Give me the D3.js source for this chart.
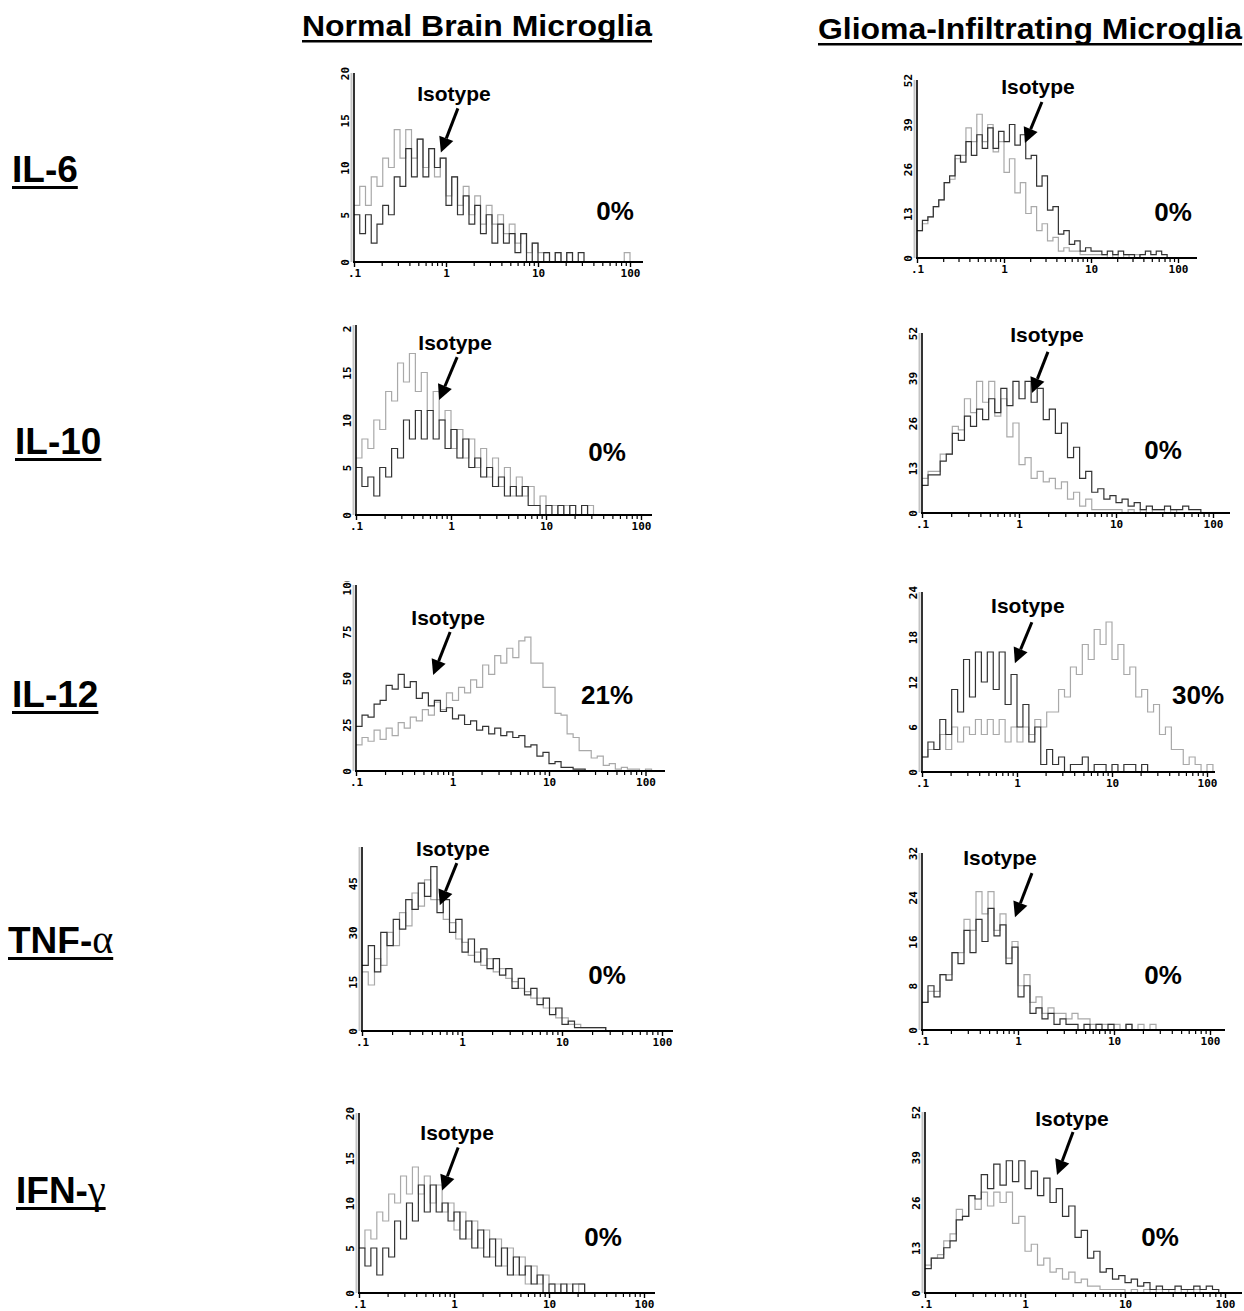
<!DOCTYPE html>
<html>
<head>
<meta charset="utf-8">
<script src="https://cdn.jsdelivr.net/npm/d3@7"></script>
<style>
  body { margin: 0; background: #fff; }
  svg { display: block; }
</style>
</head>
<body>
<svg id="fig" width="1244" height="1311"></svg>
<script>
// ---- data (counts per log channel, 16 channels per decade, starting at 0.1) ----
const columnTitles = ['Normal Brain Microglia', 'Glioma-Infiltrating Microglia']
const rowLabels = [['IL-6', ''], ['IL-10', ''], ['IL-12', ''], ['TNF-', 'α'], ['IFN-', 'γ']]
const xTickValues = [0.1, 1, 10, 100]
const xTickLabels = ['.1', '1', '10', '100']
const xMinorTicks = [0.2, 0.3, 0.4, 0.5, 0.6, 0.7, 0.8, 0.9, 2, 3, 4, 5, 6, 7, 8, 9,
  20, 30, 40, 50, 60, 70, 80, 90, 200]

const normalYMax = [20, 20, 100, 56, 20]
const gliomaYMax = [52, 52, 24, 32, 52]
const normalYTicks = [[0, 5, 10, 15, 20], [0, 5, 10, 15, 20], [0, 25, 50, 75, 100], [0, 15, 30, 45], [0, 5, 10, 15, 20]]
const gliomaYTicks = [[0, 13, 26, 39, 52], [0, 13, 26, 39, 52], [0, 6, 12, 18, 24], [0, 8, 16, 24, 32], [0, 13, 26, 39, 52]]
const normalPercent = ['0%', '0%', '21%', '0%', '0%']
const gliomaPercent = ['0%', '0%', '30%', '0%', '0%']
// where the "Isotype" arrow points, [fluorescence, count]
const normalArrowTip = [[0.88, 11.6], [0.75, 12.1], [0.63, 51.6], [0.6, 38.3], [0.75, 11.4]]
const gliomaArrowTip = [[1.74, 33.6], [1.36, 34.7], [0.95, 14.5], [0.93, 20.4], [2.09, 33.9]]

// isotype = dark trace, stain = light trace
const il6NormalIso = [5, 3, 5, 2, 4, 6, 5, 9, 8, 12, 9, 13, 9, 12, 10, 11, 6, 9, 5, 7, 4, 6, 3, 5, 2, 4, 2, 3, 1, 3, 0, 2, 0, 1, 0, 1, 0, 1, 0, 1, 0, 0]
const il6NormalStain = [6, 8, 6, 9, 8, 11, 10, 14, 11, 14, 11, 13, 10, 12, 9, 11, 7, 9, 6, 8, 5, 7, 4, 6, 4, 5, 3, 4, 2, 3, 1, 2, 1, 1, 0, 1, 0, 1, 0, 0, 0, 0, 0, 0, 0, 0, 0, 1, 0]
const il10NormalIso = [5, 3, 4, 2, 5, 4, 7, 6, 10, 8, 11, 8, 11, 8, 10, 7, 9, 6, 8, 5, 6, 4, 5, 3, 4, 2, 3, 2, 3, 1, 1, 0, 1, 0, 1, 0, 1, 0, 1, 0, 0]
const il10NormalStain = [6, 8, 7, 10, 9, 13, 12, 16, 14, 17, 13, 15, 11, 13, 10, 11, 7, 9, 6, 8, 5, 7, 4, 6, 3, 5, 2, 4, 2, 3, 1, 2, 1, 1, 0, 1, 0, 0, 0, 1, 0]
const il12NormalIso = [24, 30, 29, 36, 38, 46, 44, 52, 45, 48, 39, 42, 35, 38, 32, 34, 28, 30, 25, 27, 22, 24, 20, 23, 19, 21, 18, 19, 13, 14, 8, 10, 4, 5, 2, 2, 1, 1, 0]
const il12NormalStain = [14, 18, 16, 22, 17, 23, 19, 26, 23, 29, 27, 33, 30, 37, 33, 42, 38, 45, 42, 49, 45, 57, 52, 62, 58, 66, 61, 70, 72, 58, 58, 45, 45, 31, 30, 20, 18, 11, 11, 7, 8, 3, 4, 1, 2, 1, 1, 0, 1, 0]
const tnfNormalIso = [20, 26, 18, 30, 26, 34, 31, 40, 37, 45, 41, 50, 36, 40, 30, 34, 24, 28, 21, 25, 19, 22, 17, 19, 13, 16, 11, 13, 8, 10, 5, 7, 2, 3, 1, 1, 1, 1, 1, 0]
const tnfNormalStain = [18, 14, 22, 20, 30, 26, 36, 32, 42, 38, 46, 40, 40, 34, 33, 28, 27, 23, 24, 20, 22, 18, 19, 16, 15, 13, 12, 10, 10, 7, 7, 4, 4, 2, 2, 1, 1, 1, 1, 0]
const ifnNormalIso = [5, 3, 5, 2, 5, 4, 8, 6, 10, 8, 12, 9, 12, 9, 10, 8, 9, 6, 8, 5, 7, 4, 6, 3, 5, 2, 4, 2, 3, 1, 2, 0, 1, 0, 1, 0, 1, 1, 0]
const ifnNormalStain = [5, 7, 6, 9, 8, 11, 10, 13, 11, 14, 11, 13, 10, 12, 9, 10, 7, 9, 6, 8, 5, 7, 4, 6, 3, 5, 2, 4, 1, 3, 1, 2, 1, 1, 0, 1, 0, 1, 0]

const il6GliomaIso = [8, 11, 12, 15, 17, 22, 24, 30, 28, 34, 30, 36, 32, 38, 32, 37, 34, 39, 33, 36, 29, 30, 21, 24, 14, 15, 7, 8, 4, 5, 2, 3, 2, 2, 1, 2, 1, 2, 1, 1, 0, 1, 2, 1, 2, 1, 0]
const il6GliomaStain = [8, 10, 12, 15, 17, 22, 23, 29, 30, 38, 34, 42, 34, 39, 31, 34, 25, 29, 19, 22, 13, 15, 8, 10, 5, 6, 2, 3, 2, 2, 1, 1, 1, 1, 1, 0, 1, 0, 1, 0, 1, 0]
const il10GliomaIso = [8, 11, 11, 15, 17, 23, 21, 28, 25, 30, 27, 33, 29, 36, 31, 38, 33, 38, 32, 36, 27, 30, 23, 26, 16, 19, 10, 12, 6, 7, 4, 5, 3, 4, 2, 3, 1, 2, 1, 1, 2, 1, 1, 2, 1, 1, 0]
const il10GliomaStain = [10, 12, 12, 17, 17, 25, 24, 33, 29, 38, 32, 38, 28, 33, 22, 26, 14, 16, 10, 12, 9, 10, 7, 9, 4, 6, 2, 4, 1, 1, 1, 1, 1, 0, 1, 0, 1, 0, 1, 1, 0, 1, 0]
const il12GliomaIso = [2, 4, 3, 7, 5, 11, 8, 15, 10, 16, 12, 16, 11, 16, 9, 13, 6, 9, 4, 6, 1, 3, 1, 2, 0, 1, 1, 2, 0, 1, 1, 0, 1, 0, 1, 1, 0, 1, 0]
const il12GliomaStain = [2, 3, 3, 5, 3, 6, 4, 6, 5, 7, 5, 7, 5, 7, 4, 6, 4, 6, 5, 7, 6, 8, 8, 11, 10, 14, 13, 17, 15, 19, 17, 20, 15, 17, 13, 14, 10, 11, 8, 9, 5, 6, 3, 3, 1, 2, 1, 0, 1, 0]
const tnfGliomaIso = [5, 8, 6, 10, 9, 14, 12, 18, 14, 20, 16, 22, 17, 19, 12, 15, 6, 8, 3, 4, 2, 3, 1, 2, 1, 1, 0, 1, 0, 1, 0, 1, 0, 0, 1, 0]
const tnfGliomaStain = [5, 7, 7, 10, 10, 14, 14, 20, 18, 25, 21, 25, 18, 21, 13, 16, 8, 10, 5, 6, 3, 4, 3, 3, 2, 3, 2, 2, 1, 1, 1, 1, 1, 0, 1, 0, 1, 0, 1, 0]
const ifnGliomaIso = [7, 10, 10, 13, 15, 21, 22, 28, 27, 34, 30, 37, 31, 38, 32, 38, 30, 35, 28, 33, 26, 30, 22, 25, 16, 18, 10, 12, 6, 7, 4, 5, 3, 4, 2, 3, 1, 2, 1, 1, 2, 1, 1, 2, 1, 2, 1, 0]
const ifnGliomaStain = [8, 10, 11, 15, 17, 24, 22, 28, 24, 29, 25, 29, 26, 29, 20, 22, 12, 14, 8, 10, 6, 7, 4, 6, 3, 4, 2, 2, 1, 1, 1, 1, 0, 1, 0, 1, 0, 1, 0, 1, 0, 1, 0, 1, 0]

const normalCurves = [[il6NormalIso, il6NormalStain], [il10NormalIso, il10NormalStain], [il12NormalIso, il12NormalStain], [tnfNormalIso, tnfNormalStain], [ifnNormalIso, ifnNormalStain]]
const gliomaCurves = [[il6GliomaIso, il6GliomaStain], [il10GliomaIso, il10GliomaStain], [il12GliomaIso, il12GliomaStain], [tnfGliomaIso, tnfGliomaStain], [ifnGliomaIso, ifnGliomaStain]]

// ---- layout ----
const channelsPerDecade = 16
const darkColor = '#333333'
const lightColor = '#a9a9a9'
const sans = 'Liberation Sans, Arial, sans-serif'
const mono = 'DejaVu Sans Mono, monospace'

// x0 = pixel of 0.1, dec = pixels per decade, labelTop = where the y tick labels get cut
const normalFrames = [
  { x0: 354, dec: 92, xEnd: 643, base: 262, top: 73, labelTop: 60, pct: [615, 211], tail: [17, -44], label: [13, -59] },
  { x0: 356, dec: 95, xEnd: 652, base: 515, top: 325, labelTop: 325, pct: [607, 452], tail: [18, -43], label: [16, -58] },
  { x0: 356, dec: 96.5, xEnd: 665, base: 771, top: 585, labelTop: 581, pct: [607, 695], tail: [17, -43], label: [15, -58] },
  { x0: 362, dec: 100, xEnd: 673, base: 1031, top: 847, labelTop: 840, pct: [607, 975], tail: [17, -42], label: [13, -57] },
  { x0: 359, dec: 95, xEnd: 655, base: 1293, top: 1113, labelTop: 1100, pct: [603, 1237], tail: [16, -43], label: [15, -58] }
]
const gliomaFrames = [
  { x0: 917, dec: 87, xEnd: 1197, base: 258, top: 80, labelTop: 66, pct: [1173, 212], tail: [17, -41], label: [13, -56] },
  { x0: 922, dec: 97, xEnd: 1230, base: 513, top: 333, labelTop: 320, pct: [1163, 450], tail: [16, -41], label: [15, -58] },
  { x0: 922, dec: 95, xEnd: 1215, base: 772, top: 592, labelTop: 580, pct: [1198, 695], tail: [17, -41], label: [13, -58] },
  { x0: 922, dec: 96, xEnd: 1225, base: 1030, top: 853, labelTop: 840, pct: [1163, 975], tail: [17, -44], label: [-15, -60] },
  { x0: 925, dec: 100, xEnd: 1242, base: 1293, top: 1112, labelTop: 1100, pct: [1160, 1237], tail: [16, -43], label: [15, -57] }
]

const svg = d3.select('#fig')
let clipCount = 0

function addClip(x, y, w, h) {
  const id = 'clip' + clipCount++
  svg.append('clipPath').attr('id', id)
    .append('rect').attr('x', x).attr('y', y).attr('width', w).attr('height', h)
  return 'url(#' + id + ')'
}

function drawPanel(f, curves, yMax, yTicks, tip, pct) {
  const x = d3.scaleLog().domain([0.1, 100]).range([f.x0, f.x0 + 3 * f.dec])
  const y = d3.scaleLinear().domain([0, yMax]).range([f.base, f.top])
  const channel = i => 0.1 * Math.pow(10, i / channelsPerDecade)

  const line = d3.line()
    .x(d => x(d[0]))
    .y(d => y(d[1]))
    .curve(d3.curveStepAfter)

  const plot = svg.append('g').attr('clip-path', addClip(f.x0, f.top, f.xEnd - f.x0, f.base - f.top + 1))
  // stained trace (light) first, isotype (dark) over it
  const order = [[curves[1], lightColor], [curves[0], darkColor]]
  order.forEach(([vals, col]) => {
    const pts = vals.map((v, i) => [channel(i), v])
    pts.push([channel(vals.length), vals[vals.length - 1]])
    plot.append('path')
      .attr('d', line(pts))
      .attr('fill', 'none')
      .attr('stroke', col)
      .attr('stroke-width', 1.2)
  })

  // y axis: grey shadow + black line
  svg.append('line').attr('x1', f.x0 - 2.5).attr('x2', f.x0 - 2.5).attr('y1', f.top).attr('y2', f.base)
    .attr('stroke', '#c4c4c4').attr('stroke-width', 2)
  svg.append('line').attr('x1', f.x0).attr('x2', f.x0).attr('y1', f.top).attr('y2', f.base + 1)
    .attr('stroke', '#000').attr('stroke-width', 1.6)
  // x axis line
  svg.append('line').attr('x1', f.x0 - 1).attr('x2', f.xEnd).attr('y1', f.base).attr('y2', f.base)
    .attr('stroke', '#000').attr('stroke-width', 2)

  const minor = xMinorTicks.filter(v => x(v) <= f.xEnd)
  const minorAxis = svg.append('g').attr('transform', `translate(0,${f.base})`)
    .call(d3.axisBottom(x).tickValues(minor).tickSize(4).tickFormat(''))
  minorAxis.select('.domain').remove()
  minorAxis.selectAll('line').attr('stroke', '#000').attr('stroke-width', 1.2)

  const majorAxis = svg.append('g').attr('transform', `translate(0,${f.base})`)
    .call(d3.axisBottom(x).tickValues(xTickValues).tickSize(5).tickPadding(2)
      .tickFormat((d, i) => xTickLabels[i]))
  majorAxis.select('.domain').remove()
  majorAxis.selectAll('line').attr('stroke', '#000').attr('stroke-width', 1.4)
  majorAxis.selectAll('text')
    .attr('fill', '#000')
    .style('font-family', mono).style('font-size', '11px').style('font-weight', 'bold')

  // outer group carries the clip (in page coordinates), inner group the axis translate
  const yWrap = svg.append('g').attr('clip-path', addClip(f.x0 - 30, f.labelTop, 40, f.base - f.labelTop + 20))
  const yAxis = yWrap.append('g')
    .attr('transform', `translate(${f.x0},0)`)
    .call(d3.axisLeft(y).tickValues(yTicks).tickSize(0).tickFormat(d3.format('d')))
  yAxis.select('.domain').remove()
  yAxis.selectAll('text')
    .attr('x', null).attr('dy', null)
    .attr('transform', 'translate(-9,0) rotate(-90)')
    .attr('text-anchor', 'middle')
    .attr('dominant-baseline', 'central')
    .attr('fill', '#000')
    .style('font-family', mono).style('font-size', '11px').style('font-weight', 'bold')

  // Isotype arrow
  const tx = x(tip[0]), ty = y(tip[1])
  const sx = tx + f.tail[0], sy = ty + f.tail[1]
  const ang = Math.atan2(ty - sy, tx - sx)
  const headLen = 15, headHalf = 7.5
  const bx = tx - headLen * Math.cos(ang), by = ty - headLen * Math.sin(ang)
  svg.append('line').attr('x1', sx).attr('y1', sy).attr('x2', bx).attr('y2', by)
    .attr('stroke', '#000').attr('stroke-width', 3)
  const px = -Math.sin(ang), py = Math.cos(ang)
  svg.append('path')
    .attr('d', `M${tx},${ty}L${bx + px * headHalf},${by + py * headHalf}L${bx - px * headHalf},${by - py * headHalf}Z`)
    .attr('fill', '#000')
  svg.append('text')
    .attr('x', tx + f.label[0]).attr('y', ty + f.label[1])
    .attr('text-anchor', 'middle').attr('dominant-baseline', 'central')
    .style('font-family', sans).style('font-size', '21px').style('font-weight', 'bold')
    .text('Isotype')

  svg.append('text')
    .attr('x', f.pct[0]).attr('y', f.pct[1])
    .attr('text-anchor', 'middle').attr('dominant-baseline', 'central')
    .style('font-family', sans).style('font-size', '26px').style('font-weight', 'bold')
    .text(pct)
}

normalFrames.forEach((f, i) => drawPanel(f, normalCurves[i], normalYMax[i], normalYTicks[i], normalArrowTip[i], normalPercent[i]))
gliomaFrames.forEach((f, i) => drawPanel(f, gliomaCurves[i], gliomaYMax[i], gliomaYTicks[i], gliomaArrowTip[i], gliomaPercent[i]))

// column titles
const titlePos = [{ x: 302, y: 36, w: 350 }, { x: 818, y: 39, w: 424 }]
columnTitles.forEach((t, i) => {
  const p = titlePos[i]
  svg.append('text')
    .attr('x', p.x).attr('y', p.y)
    .attr('textLength', p.w).attr('lengthAdjust', 'spacingAndGlyphs')
    .style('font-family', sans).style('font-size', '30px').style('font-weight', 'bold')
    .text(t)
  svg.append('rect').attr('x', p.x).attr('y', p.y + 4).attr('width', p.w).attr('height', 2.5).attr('fill', '#000')
})

// row labels
const rowPos = [[12, 182], [15, 454], [12, 707], [8, 953], [16, 1203]]
rowLabels.forEach((r, i) => {
  const [lx, ly] = rowPos[i]
  const t = svg.append('text').attr('x', lx).attr('y', ly)
    .style('font-family', sans).style('font-size', '37px').style('font-weight', 'bold')
  t.append('tspan').text(r[0])
  if (r[1]) {
    t.append('tspan').text(r[1])
      .style('font-family', 'Liberation Serif, Times New Roman, serif')
      .style('font-weight', 'normal').style('font-size', '40px')
  }
  const w = t.node().getComputedTextLength()
  svg.append('rect').attr('x', lx).attr('y', ly + 4).attr('width', w).attr('height', 3).attr('fill', '#000')
})
</script>
</body>
</html>
